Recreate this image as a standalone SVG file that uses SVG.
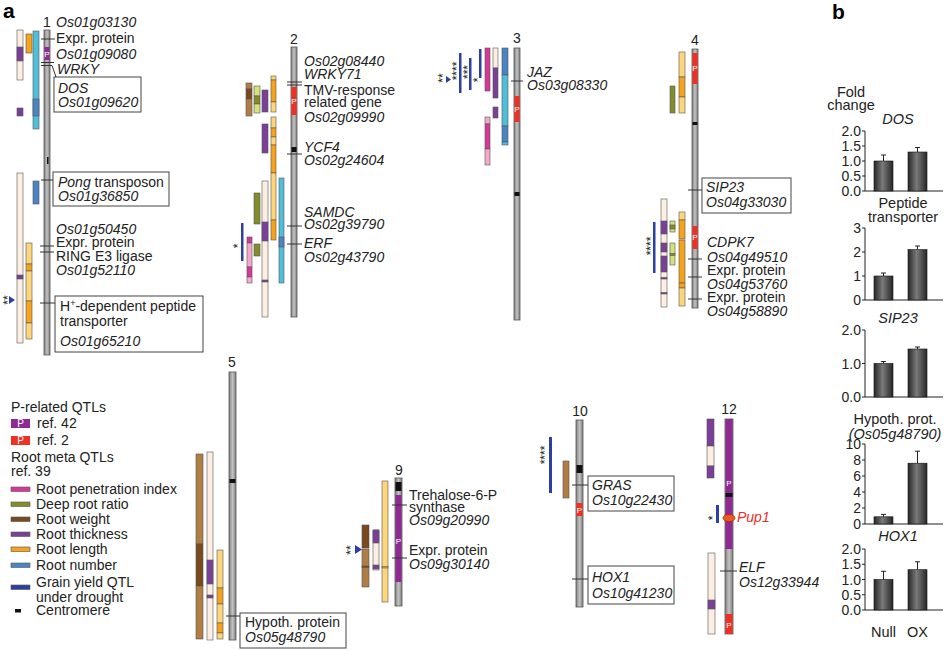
<svg xmlns="http://www.w3.org/2000/svg" width="946" height="650" viewBox="0 0 946 650">
<defs>
<linearGradient id="chrg" x1="0" x2="1" y1="0" y2="0"><stop offset="0" stop-color="#7f7f7f"/><stop offset="0.5" stop-color="#c2c2c2"/><stop offset="1" stop-color="#7f7f7f"/></linearGradient>
<linearGradient id="barg" x1="0" x2="1" y1="0" y2="0"><stop offset="0" stop-color="#262626"/><stop offset="0.45" stop-color="#7a7a7a"/><stop offset="1" stop-color="#262626"/></linearGradient>
<style>
text{font-family:"Liberation Sans",Arial,sans-serif;font-size:14px;fill:#222}
.i{font-style:italic}
.t{stroke:#333;stroke-width:1;fill:none}
.box{fill:#fff;stroke:#444;stroke-width:1}
.chr{fill:url(#chrg);stroke:#555;stroke-width:0.8}
rect.q{stroke:#555;stroke-width:0.6}
.cr{fill:#fcefe2}.pu{fill:#7b3f98}.or{fill:#f5a31a}.lo{fill:#fdd67c}.cy{fill:#4fbfd9}.bl{fill:#4a84c4}
.ol{fill:#858c2c}.lol{fill:#d5e27a}.br{fill:#b07e45}.dbr{fill:#7a4a1e}.mg{fill:#d6389a}.pk{fill:#f5a8c9}
.gy{fill:#2b3fa5}.cen{fill:#111}.pp{fill:#8e2a91}.pr{fill:#ee3124}
.pt{fill:#fff;font-size:8px;text-anchor:middle}
.st{font-size:12px;text-anchor:middle}
.num{text-anchor:middle}
.ax{stroke:#222;stroke-width:1;fill:none}
.bar{fill:url(#barg);stroke:#111;stroke-width:0.6}
.tl{text-anchor:end}
.c{text-anchor:middle}
.h{font-size:14.5px}
.lab{font-weight:bold;font-size:21px;fill:#000}
</style>
</defs>
<rect width="946" height="650" fill="#fff"/>
<text class="lab" x="3" y="18">a</text>
<text class="lab" x="832" y="19">b</text>

<!-- Chromosome 1 -->
<g id="chr1">
<text class="num" x="47" y="27">1</text>
<rect class="q cr" x="17" y="30" width="6" height="50"/><rect class="q pu" x="17" y="47" width="6" height="14"/>
<rect class="q or" x="26" y="34" width="6" height="19"/>
<rect class="q cy" x="33" y="31" width="6" height="98"/><rect class="q bl" x="33" y="99" width="6" height="17"/>
<rect class="q pu" x="17" y="108" width="6" height="8"/>
<rect class="q cr" x="17" y="173" width="6" height="170"/><rect class="q pu" x="17" y="275" width="6" height="4"/>
<rect class="q bl" x="33" y="181" width="6" height="23"/>
<rect class="q lo" x="26" y="243" width="6" height="21"/><rect class="q or" x="26" y="264" width="6" height="7"/><rect class="q lo" x="26" y="271" width="6" height="30"/><rect class="q or" x="26" y="301" width="6" height="22"/><rect class="q lo" x="26" y="323" width="6" height="16"/>
<polygon class="gy" points="9,296 15,300 9,304"/>
<text class="st" transform="translate(11.5,300) rotate(-90)">**</text>
<rect class="chr" x="44" y="30" width="6" height="325"/>
<rect class="pp" x="44.5" y="47" width="5" height="13"/><text class="pt" x="47" y="57">P</text>
<rect class="cen" x="47" y="157" width="1.5" height="7"/>
<text class="i" x="56" y="27">Os01g03130</text>
<text x="56" y="43">Expr. protein</text>
<text class="i" x="56" y="59">Os01g09080</text>
<text class="i" x="57" y="74">WRKY</text>
<rect class="box" x="54" y="77" width="87" height="35"/>
<text class="i" x="58" y="93">DOS</text><text class="i" x="58" y="107">Os01g09620</text>
<rect class="box" x="53" y="172" width="116" height="34"/>
<text x="58" y="187"><tspan class="i">Pong</tspan> transposon</text><text class="i" x="58" y="201">Os01g36850</text>
<text class="i" x="56" y="234">Os01g50450</text>
<text x="56" y="247">Expr. protein</text>
<text x="56" y="261">RING E3 ligase</text>
<text class="i" x="56" y="275">Os01g52110</text>
<rect class="box" x="55" y="296" width="148" height="56"/>
<text x="60" y="311">H<tspan font-size="9px" dy="-5">+</tspan><tspan dy="5">-dependent peptide</tspan></text>
<text x="60" y="326">transporter</text>
<text class="i" x="60" y="346">Os01g65210</text>
</g>

<!-- Chromosome 2 -->
<g id="chr2">
<text class="num" x="294" y="44">2</text>
<rect class="q br" x="246" y="83" width="6" height="6"/><rect class="q dbr" x="246" y="89" width="6" height="10"/><rect class="q br" x="246" y="99" width="6" height="17"/>
<rect class="q lol" x="254" y="86" width="6" height="10"/><rect class="q ol" x="254" y="96" width="6" height="8"/><rect class="q lol" x="254" y="104" width="6" height="9"/>
<rect class="q pu" x="262" y="90" width="6" height="22"/>
<rect class="q lo" x="271" y="76" width="5" height="4"/><rect class="q or" x="271" y="80" width="5" height="22"/><rect class="q lo" x="271" y="102" width="5" height="10"/>
<rect class="q pu" x="262" y="124" width="6" height="29"/>
<rect class="q lo" x="271" y="117" width="5" height="11"/><rect class="q or" x="271" y="128" width="5" height="9"/><rect class="q lo" x="271" y="137" width="5" height="8"/><rect class="q or" x="271" y="145" width="5" height="28"/><rect class="q lo" x="271" y="173" width="5" height="47"/><rect class="q or" x="271" y="220" width="5" height="20"/>
<rect class="q cy" x="279" y="178" width="5" height="105"/><rect class="q bl" x="279" y="237" width="5" height="10"/>
<rect class="q ol" x="254" y="193" width="6" height="31"/>
<rect class="q cr" x="262" y="181" width="6" height="136"/><rect class="q pu" x="262" y="222" width="6" height="19"/><rect class="q pu" x="262" y="280" width="6" height="2"/>
<rect class="q mg" x="247" y="237" width="5" height="6"/><rect class="q pk" x="247" y="243" width="5" height="24"/><rect class="q mg" x="247" y="267" width="5" height="10"/><rect class="q pk" x="247" y="277" width="5" height="6"/>
<rect class="q ol" x="254" y="244" width="6" height="12"/>
<rect class="gy" x="241" y="223" width="2.5" height="38"/>
<text class="st" transform="translate(242,246) rotate(-90)">*</text>
<rect class="chr" x="291" y="47" width="6" height="270"/>
<rect class="pr" x="291.5" y="87" width="5" height="28"/><text class="pt" x="294" y="104">P</text>
<rect class="cen" x="291.5" y="147" width="5" height="5"/>
<text class="i" x="304" y="66">Os02g08440</text>
<text class="i" x="304" y="79">WRKY71</text>
<text x="304" y="95">TMV-response</text>
<text x="304" y="107">related gene</text>
<text class="i" x="304" y="122">Os02g09990</text>
<text class="i" x="304" y="152">YCF4</text>
<text class="i" x="304" y="165">Os02g24604</text>
<text class="i" x="304" y="217">SAMDC</text>
<text class="i" x="304" y="229">Os02g39790</text>
<text class="i" x="304" y="248">ERF</text>
<text class="i" x="304" y="262">Os02g43790</text>
</g>

<!-- Chromosome 3 -->
<g id="chr3">
<text class="num" x="517" y="43">3</text>
<rect class="gy" x="459" y="53" width="2.5" height="40"/>
<rect class="gy" x="469" y="58" width="2.5" height="32"/>
<rect class="gy" x="479" y="49" width="2.5" height="29"/>
<rect class="q mg" x="485" y="48" width="5" height="43"/>
<rect class="q cr" x="493" y="48" width="5" height="20"/><rect class="q pu" x="493" y="68" width="5" height="30"/>
<rect class="q pu" x="493" y="107" width="5" height="11"/>
<rect class="q bl" x="502" y="48" width="6" height="27"/><rect class="q cy" x="502" y="75" width="6" height="51"/><rect class="q bl" x="502" y="126" width="6" height="16"/><rect class="q cy" x="502" y="142" width="6" height="3"/>
<rect class="q pk" x="485" y="117" width="5" height="7"/><rect class="q mg" x="485" y="124" width="5" height="25"/><rect class="q pk" x="485" y="149" width="5" height="16"/>
<polygon class="gy" points="446,76 451,79.5 446,83"/>
<text class="st" transform="translate(447,78) rotate(-90)">**</text>
<text class="st" transform="translate(461,71) rotate(-90)">****</text>
<text class="st" transform="translate(472,72) rotate(-90)">***</text>
<text class="st" transform="translate(482,80) rotate(-90)">*</text>
<rect class="chr" x="514" y="48" width="6" height="272"/>
<rect class="pr" x="514.5" y="96" width="5" height="26"/><text class="pt" x="517" y="112">P</text>
<rect class="cen" x="514.5" y="192" width="5" height="4"/>
<text class="i" x="527" y="77">JAZ</text>
<text class="i" x="527" y="90">Os03g08330</text>
</g>

<!-- Chromosome 4 -->
<g id="chr4">
<text class="num" x="695" y="45">4</text>
<rect class="q lo" x="679" y="52" width="6" height="25"/><rect class="q or" x="679" y="77" width="6" height="20"/><rect class="q lo" x="679" y="97" width="6" height="16"/>
<rect class="q ol" x="670" y="86" width="5" height="27"/>
<rect class="q cr" x="661" y="199" width="6" height="108"/><rect class="q pu" x="661" y="221" width="6" height="13"/><rect class="q pu" x="661" y="243" width="6" height="9"/><rect class="q pu" x="661" y="256" width="6" height="16"/><rect class="q pu" x="661" y="277.5" width="6" height="1.5"/><rect class="q pu" x="661" y="292.5" width="6" height="1.5"/>
<rect class="q lol" x="670" y="221" width="5" height="11"/><rect class="q ol" x="670" y="225" width="5" height="4"/>
<rect class="q lol" x="670" y="243" width="5" height="22"/><rect class="q ol" x="670" y="253.5" width="5" height="2"/>
<rect class="q lo" x="679" y="212" width="6" height="8"/><rect class="q or" x="679" y="220" width="6" height="19"/><rect class="q or" x="679" y="240" width="6" height="43"/><rect class="q or" x="679" y="283" width="6" height="5"/><rect class="q lo" x="679" y="288" width="6" height="18"/>
<rect class="gy" x="653" y="222" width="2.5" height="51"/>
<text class="st" transform="translate(655,246) rotate(-90)">****</text>
<rect class="chr" x="692" y="49" width="6" height="259"/>
<rect class="pr" x="692.5" y="53" width="5" height="31"/><text class="pt" x="695" y="71">P</text>
<rect class="cen" x="692.5" y="122" width="5" height="3"/>
<rect class="pr" x="692.5" y="226" width="5" height="23"/><text class="pt" x="695" y="240">P</text>
<rect class="box" x="702" y="178" width="89" height="35"/>
<text class="i" x="706" y="192">SIP23</text><text class="i" x="706" y="207">Os04g33030</text>
<text class="i" x="707" y="247">CDPK7</text>
<text class="i" x="707" y="262">Os04g49510</text>
<text x="707" y="275">Expr. protein</text>
<text class="i" x="707" y="289">Os04g53760</text>
<text x="707" y="302">Expr. protein</text>
<text class="i" x="707" y="316">Os04g58890</text>
</g>

<!-- Chromosome 5 -->
<g id="chr5">
<text class="num" x="232" y="367">5</text>
<rect class="q br" x="196" y="454" width="7" height="90"/><rect class="q dbr" x="196" y="544" width="7" height="42"/><rect class="q br" x="196" y="586" width="7" height="53"/>
<rect class="q cr" x="207" y="452" width="6" height="188"/><rect class="q pu" x="207" y="560" width="6" height="24"/><rect class="q pu" x="207" y="595" width="6" height="3"/>
<rect class="q lo" x="217" y="550" width="6" height="38"/><rect class="q or" x="217" y="588" width="6" height="16"/><rect class="q lo" x="217" y="604" width="6" height="19"/><rect class="q or" x="217" y="623" width="6" height="10"/><rect class="q lo" x="217" y="633" width="6" height="6"/>
<rect class="chr" x="229" y="372" width="7" height="268"/>
<rect class="cen" x="229.5" y="479" width="6" height="4"/>
<rect class="box" x="240" y="613" width="106" height="35"/>
<text x="245" y="627">Hypoth. protein</text><text class="i" x="245" y="642">Os05g48790</text>
</g>

<!-- Chromosome 9 -->
<g id="chr9">
<text class="num" x="399" y="475">9</text>
<rect class="q lo" x="382" y="481" width="6" height="121"/><rect class="q or" x="382" y="566.5" width="6" height="1.5"/>
<rect class="q dbr" x="362" y="525" width="7" height="23"/><rect class="q br" x="362" y="549" width="7" height="38"/><rect class="q dbr" x="362" y="566" width="7" height="1.5"/>
<rect class="q cr" x="373" y="530" width="6" height="40"/><rect class="q pu" x="373" y="530" width="6" height="13"/><rect class="q pu" x="373" y="565" width="6" height="4"/>
<polygon class="gy" points="355,545 362,549.5 355,554"/>
<text class="st" transform="translate(354.5,550) rotate(-90)">**</text>
<rect class="chr" x="395" y="478" width="7" height="128"/>
<rect class="cen" x="395.5" y="482" width="6" height="9"/>
<rect class="pp" x="395.5" y="495" width="6" height="87"/><text class="pt" x="398.5" y="544">P</text>
<text x="409" y="500">Trehalose-6-P</text>
<text x="409" y="512">synthase</text>
<text class="i" x="409" y="525">Os09g20990</text>
<text x="409" y="555">Expr. protein</text>
<text class="i" x="409" y="569">Os09g30140</text>
</g>

<!-- Chromosome 10 -->
<g id="chr10">
<text class="num" x="580" y="416">10</text>
<rect class="q br" x="563" y="461" width="6" height="37"/>
<rect class="gy" x="549" y="437" width="3" height="56"/>
<text class="st" transform="translate(548.5,455) rotate(-90)">****</text>
<rect class="chr" x="576" y="420" width="7" height="187"/>
<rect class="cen" x="576.5" y="465" width="6" height="8"/>
<rect class="pr" x="576.5" y="503" width="6" height="13"/><text class="pt" x="579.5" y="513">P</text>
<rect class="box" x="588" y="476" width="86" height="35"/>
<text class="i" x="592" y="490">GRAS</text><text class="i" x="592" y="505">Os10g22430</text>
<rect class="box" x="588" y="566" width="86" height="38"/>
<text class="i" x="592" y="582">HOX1</text><text class="i" x="592" y="598">Os10g41230</text>
</g>

<!-- Chromosome 12 -->
<g id="chr12">
<text class="num" x="729" y="414">12</text>
<rect class="q pu" x="707" y="419" width="7" height="27"/><rect class="q cr" x="707" y="446" width="7" height="20"/><rect class="q pu" x="707" y="466" width="7" height="12"/>
<rect class="gy" x="716" y="505" width="3" height="18"/>
<text class="st" transform="translate(716.5,518) rotate(-90)">*</text>
<rect class="q cr" x="708" y="553" width="7" height="81"/><rect class="q pu" x="708" y="600" width="7" height="9"/>
<rect class="chr" x="725" y="419" width="8" height="215"/>
<rect class="pp" x="725.5" y="419" width="7" height="130"/><text class="pt" x="729" y="486">P</text>
<rect class="cen" x="725.5" y="493" width="7" height="4"/>
<rect class="pr" x="725.5" y="614" width="7" height="20"/><text class="pt" x="729" y="628">P</text>
<ellipse cx="729" cy="518" rx="6" ry="3.5" fill="#ec5a22" stroke="#b02a10" stroke-width="0.8"/>
<text class="i" x="737" y="522" style="fill:#ee2a2a">Pup1</text>
<text class="i" x="739" y="572">ELF</text>
<text class="i" x="739" y="587">Os12g33944</text>
</g>

<!-- Connectors -->
<g id="connectors">
<path class="t" d="M41 39H55M41 62.5H54M41 65.5H52L56 77M41 180H53M40 246H54M40 252H54M40 303H55"/>
<path class="t" d="M287 82H302M287 85H302M287 154H302M287 226H302M287 244H302"/>
<path class="t" d="M511 81H523"/>
<path class="t" d="M688 190H702M688 259H702M688 277H702M688 299H702"/>
<path class="t" d="M226 616H240"/>
<path class="t" d="M392 505H407M392 558H407"/>
<path class="t" d="M572 485H588M572 579H588"/>
<path class="t" d="M720 571H737"/>
</g>

<!-- Legend -->
<g id="legend">
<text x="11" y="412">P-related QTLs</text>
<rect class="pp" x="11" y="419" width="19" height="9"/><text x="20.5" y="427" style="fill:#fff;font-size:10px" text-anchor="middle">P</text>
<text x="37" y="428">ref. 42</text>
<rect class="pr" x="11" y="436" width="19" height="9"/><text x="20.5" y="444" style="fill:#fff;font-size:10px" text-anchor="middle">P</text>
<text x="37" y="445">ref. 2</text>
<text x="11" y="462">Root meta QTLs</text>
<text x="11" y="476">ref. 39</text>
<rect class="q mg" x="11" y="487" width="19" height="4.5"/><text x="36" y="494">Root penetration index</text>
<rect class="q ol" x="11" y="502" width="19" height="4.5"/><text x="36" y="509">Deep root ratio</text>
<rect class="q dbr" x="11" y="517" width="19" height="4.5"/><text x="36" y="524">Root weight</text>
<rect class="q pu" x="11" y="532" width="19" height="4.5"/><text x="36" y="539">Root thickness</text>
<rect class="q or" x="11" y="547" width="19" height="4.5"/><text x="36" y="554">Root length</text>
<rect class="q bl" x="11" y="563" width="19" height="4.5"/><text x="36" y="570">Root number</text>
<rect class="q gy" x="11" y="585" width="19" height="4.5"/><text x="36" y="587">Grain yield QTL</text><text x="36" y="602">under drought</text>
<rect class="cen" x="15" y="609" width="6" height="3.5"/><text x="36" y="615">Centromere</text>
</g>

<!-- Panel b -->
<g id="chart-dos">
<text class="c h" x="851" y="97">Fold</text><text class="c h" x="851" y="110">change</text>
<text class="i c h" x="898" y="124">DOS</text>
<path class="ax" d="M865 131V191H943M862 131H865M862 146H865M862 161H865M862 176H865M862 191H865"/>
<text class="tl" x="861" y="136">2.0</text><text class="tl" x="861" y="151">1.5</text><text class="tl" x="861" y="166">1.0</text><text class="tl" x="861" y="181">0.5</text><text class="tl" x="861" y="196">0.0</text>
<path class="ax" d="M883.5 161V155M881 155H886M917.5 152V147.5M915 147.5H920"/>
<rect class="bar" x="874" y="161" width="19" height="30"/><rect class="bar" x="908" y="152" width="19" height="39"/>
</g>
<g id="chart-pep">
<text class="c h" x="903" y="208">Peptide</text><text class="c h" x="903" y="222">transporter</text>
<path class="ax" d="M865 228V300H943M862 228H865M862 252H865M862 276H865M862 300H865"/>
<text class="tl" x="861" y="233">3</text><text class="tl" x="861" y="257">2</text><text class="tl" x="861" y="281">1</text><text class="tl" x="861" y="305">0</text>
<path class="ax" d="M883.5 276V273M881 273H886M917.5 249.6V246M915 246H920"/>
<rect class="bar" x="874" y="276" width="19" height="24"/><rect class="bar" x="908" y="249.6" width="19" height="50.4"/>
</g>
<g id="chart-sip">
<text class="i c h" x="898" y="323">SIP23</text>
<path class="ax" d="M865 330V397H943M862 330H865M862 363.5H865M862 397H865"/>
<text class="tl" x="861" y="335">2.0</text><text class="tl" x="861" y="368.5">1.0</text><text class="tl" x="861" y="402">0.0</text>
<path class="ax" d="M883.5 363.5V361.5M881 361.5H886M917.5 349V347M915 347H920"/>
<rect class="bar" x="874" y="363.5" width="19" height="33.5"/><rect class="bar" x="908" y="349" width="19" height="48"/>
</g>
<g id="chart-hyp">
<text class="c h" x="895" y="424">Hypoth. prot.</text><text class="i c h" x="895" y="439">(Os05g48790)</text>
<path class="ax" d="M865 444V524H943M862 444H865M862 460H865M862 476H865M862 492H865M862 508H865M862 524H865"/>
<text class="tl" x="861" y="449">10</text><text class="tl" x="861" y="465">8</text><text class="tl" x="861" y="481">6</text><text class="tl" x="861" y="497">4</text><text class="tl" x="861" y="513">2</text><text class="tl" x="861" y="529">0</text>
<path class="ax" d="M883.5 516.8V514.4M881 514.4H886M917.5 463.2V451.2M915 451.2H920"/>
<rect class="bar" x="874" y="516.8" width="19" height="7.2"/><rect class="bar" x="908" y="463.2" width="19" height="60.8"/>
</g>
<g id="chart-hox">
<text class="i c h" x="898" y="541">HOX1</text>
<path class="ax" d="M865 549V610H943M862 549H865M862 564.25H865M862 579.5H865M862 594.75H865M862 610H865"/>
<text class="tl" x="861" y="554">2.0</text><text class="tl" x="861" y="569.25">1.5</text><text class="tl" x="861" y="584.5">1.0</text><text class="tl" x="861" y="599.75">0.5</text><text class="tl" x="861" y="615">0.0</text>
<path class="ax" d="M883.5 579.5V571.3M881 571.3H886M917.5 569.7V561.8M915 561.8H920"/>
<rect class="bar" x="874" y="579.5" width="19" height="30.5"/><rect class="bar" x="908" y="569.7" width="19" height="40.3"/>
<text class="c h" x="883.5" y="637">Null</text><text class="c h" x="917.5" y="637">OX</text>
</g>
</svg>
